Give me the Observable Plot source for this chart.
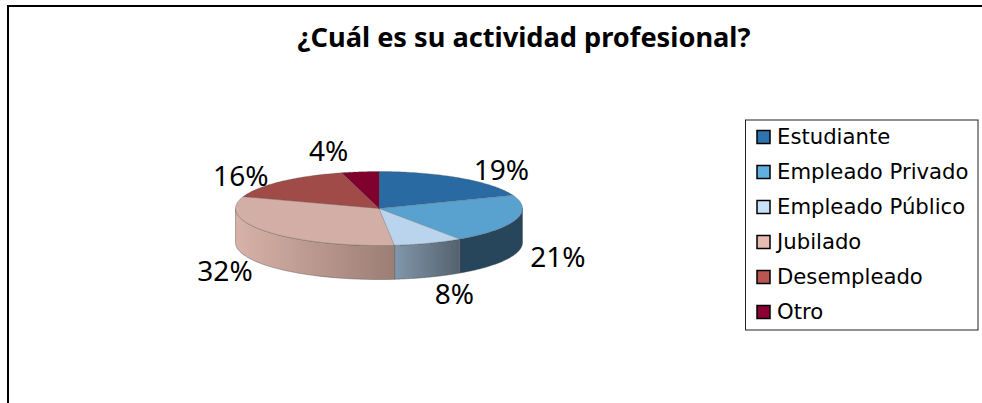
<!DOCTYPE html>
<html>
<head>
<meta charset="utf-8">
<style>html,body{margin:0;padding:0;background:#fff}svg{display:block}</style>
<script src="https://cdn.jsdelivr.net/npm/d3@7"></script>
<script src="https://cdn.jsdelivr.net/npm/@observablehq/plot@0.6"></script>
</head>
<body>
<script>
const titleText = "¿Cuál es su actividad profesional?";
const categories = ["Estudiante", "Empleado Privado", "Empleado Público", "Jubilado", "Desempleado", "Otro"];
const shares = [19.2, 21.3, 7.8, 31.9, 15.6, 4.2];
const topColors = ["#2a6aa3", "#59a2d0", "#b9d4ec", "#d2aea6", "#a04b47", "#80002e"];
const legendColors = ["#2e75b0", "#5fb0e0", "#c8e2fa", "#e5bbb2", "#b8564f", "#8c0033"];
const sideStops = [
  ["#27465c", "#27465c"], ["#27465c", "#27465c"], ["#8197ab", "#55626e"],
  ["#d8b2a9", "#9c7e74"], ["#888", "#888"], ["#888", "#888"]
];
const labelNudge = [[41, -7], [42, 38], [26, 52], [-42, 40], [-40, -4], [-31.5, -20]];

const W = 982, H = 403;
const cx = 378.5, cy = 208, rx = 143.5, ry = 37, depth = 34;
const FONT = "'DejaVu Sans', sans-serif";
const LABEL_FONT = "'Noto Sans', sans-serif";

const total = d3.sum(shares);
const cum = d3.cumsum(shares);
const ang = i => (i === 0 ? 0 : cum[i - 1]) / total * 360;
const pt = (deg, dy = 0) => {
  const t = deg * Math.PI / 180;
  return {x: cx + rx * Math.sin(t), y: cy - ry * Math.cos(t) + dy};
};
const arc = (a0, a1, dy = 0) => d3.range(0, 61).map(k => pt(a0 + (a1 - a0) * k / 60, dy));

const slices = categories.map((name, i) => ({name, i, a0: ang(i), a1: ang(i) + shares[i] / total * 360}));

const gradients = () => {
  const defs = d3.create("svg:defs");
  sideStops.forEach((s, i) => {
    const g = defs.append("linearGradient").attr("id", "side" + i);
    g.append("stop").attr("offset", 0).attr("stop-color", s[0]);
    g.append("stop").attr("offset", 1).attr("stop-color", s[1]);
  });
  return defs.node();
};

const sideMarks = slices
  .filter(s => s.a1 > 90 && s.a0 < 270)
  .map(s => {
    const a0 = Math.max(s.a0, 90), a1 = Math.min(s.a1, 270);
    return Plot.line([...arc(a0, a1), ...arc(a1, a0, depth)], {
      x: "x", y: "y", fill: `url(#side${s.i})`,
      stroke: "#4a4a4a", strokeWidth: 0.6, strokeOpacity: 0.7, curve: "linear-closed"
    });
  });

const topMarks = slices.map(s =>
  Plot.line([{x: cx, y: cy}, ...arc(s.a0, s.a1)], {
    x: "x", y: "y", fill: topColors[s.i],
    stroke: "#555", strokeWidth: 0.5, strokeOpacity: 0.6, curve: "linear-closed"
  })
);

const labels = slices.map(s => {
  const p = pt((s.a0 + s.a1) / 2);
  return {x: p.x + labelNudge[s.i][0], y: p.y + labelNudge[s.i][1], text: Math.round(shares[s.i]) + "%"};
});

const legendX0 = 745.5, legendX1 = 978, legendY0 = 120, legendY1 = 330;
const rowY = i => 137 + i * 35;
const legendRows = categories.map((name, i) => ({name, i, y: rowY(i)}));

const chart = Plot.plot({
  width: W, height: H,
  margin: 0,
  x: {domain: [0, W], range: [0, W], axis: null},
  y: {domain: [0, H], range: [0, H], axis: null},
  style: {background: "#fff", fontFamily: FONT},
  marks: [
    gradients,
    Plot.ruleY([5.5], {x1: 7, x2: W, stroke: "#000", strokeWidth: 2}),
    Plot.ruleX([7.5], {y1: 5, y2: H, stroke: "#000", strokeWidth: 2}),
    ...sideMarks,
    ...topMarks,
    Plot.text([titleText], {
      x: 523.5, y: 38, text: d => d, fontSize: 27.2, fontWeight: "bold", fill: "#000", fontFamily: LABEL_FONT
    }),
    Plot.text(labels, {x: "x", y: "y", text: "text", fontSize: 28, fill: "#000", fontFamily: LABEL_FONT}),
    Plot.rect([0], {
      x1: legendX0, x2: legendX1, y1: legendY0, y2: legendY1,
      fill: "#fff", stroke: "#222", strokeWidth: 1
    }),
    ...legendRows.map(r => Plot.rect([r], {
      x1: 757, x2: 770, y1: r.y - 6.5, y2: r.y + 6.5,
      fill: legendColors[r.i], stroke: "#000", strokeWidth: 1.5
    })),
    Plot.text(legendRows, {
      x: 776.5, y: "y", text: "name", textAnchor: "start", fontSize: 21.2, fill: "#000", fontFamily: FONT
    })
  ]
});
document.body.append(chart);
</script>
</body>
</html>
